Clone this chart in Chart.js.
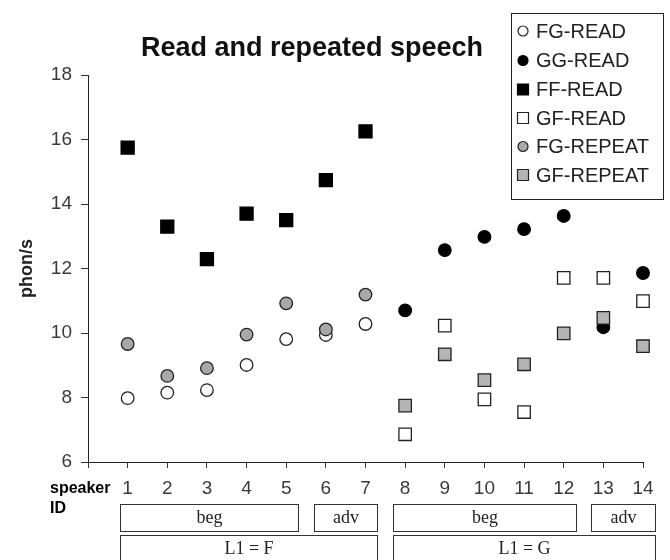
<!DOCTYPE html>
<html><head><meta charset="utf-8">
<script src="https://cdn.jsdelivr.net/npm/chart.js@4/dist/chart.umd.min.js"></script>
<style>html,body{margin:0;padding:0;background:#fff}#wrap{width:670px;height:560px;position:relative;background:#fff}</style>
</head><body><div id="wrap"><canvas id="c" width="670" height="560"></canvas></div>
<script>
// ---- data ----
const speakersF = [1, 2, 3, 4, 5, 6, 7];
const speakersG = [8, 9, 10, 11, 12, 13, 14];
const xTickLabels = ['', '1', '2', '3', '4', '5', '6', '7', '8', '9', '10', '11', '12', '13', '14'];
const yTicks = [6, 8, 10, 12, 14, 16, 18];

const fgRead   = [7.98, 8.15, 8.23, 9.01, 9.81, 9.94, 10.28];
const ggRead   = [10.70, 12.57, 12.98, 13.22, 13.63, 10.18, 11.86];
const ffRead   = [15.75, 13.30, 12.29, 13.70, 13.50, 14.74, 16.25];
const gfRead   = [6.86, 10.23, 7.94, 7.55, 11.71, 11.71, 10.99];
const fgRepeat = [9.66, 8.67, 8.91, 9.95, 10.92, 10.11, 11.19];
const gfRepeat = [7.75, 9.34, 8.54, 9.03, 9.99, 10.47, 9.59];

const levelLabels = ['beg', 'adv', 'beg', 'adv'];
const levelFrom   = [1, 6, 8, 13];
const levelTo     = [5, 7, 12, 14];
const l1Labels    = ['L1 = F', 'L1 = G'];
const l1From      = [1, 8];
const l1To        = [7, 14];

const titleText = 'Read and repeated speech';
const yTitle = 'phon/s';

// ---- build ----
const pts = (xs, ys) => xs.map((x, i) => ({x: x, y: ys[i]}));
const GREY_C = '#a8a8a8', GREY_S = '#b4b4b4', EDGE = '#222';

const datasets = [
  {label: 'FG-READ',   data: pts(speakersF, fgRead),   pointStyle: 'circle', pointRadius: 6.3, backgroundColor: '#fff', borderColor: EDGE, order: 1},
  {label: 'GG-READ',   data: pts(speakersG, ggRead),   pointStyle: 'circle', pointRadius: 6.3, backgroundColor: '#000', borderColor: '#000', order: 1},
  {label: 'FF-READ',   data: pts(speakersF, ffRead),   pointStyle: 'rect',   pointRadius: 9.2, backgroundColor: '#000', borderColor: '#000', order: 1},
  {label: 'GF-READ',   data: pts(speakersG, gfRead),   pointStyle: 'rect',   pointRadius: 8.8, backgroundColor: '#fff', borderColor: EDGE, order: 1},
  {label: 'FG-REPEAT', data: pts(speakersF, fgRepeat), pointStyle: 'circle', pointRadius: 6.3, backgroundColor: GREY_C, borderColor: EDGE, order: 0},
  {label: 'GF-REPEAT', data: pts(speakersG, gfRepeat), pointStyle: 'rect',   pointRadius: 8.8, backgroundColor: GREY_S, borderColor: EDGE, order: 0}
].map(d => Object.assign(d, {showLine: false, borderWidth: 1.3, pointHoverRadius: d.pointRadius, clip: false}));

const SANS = '"Liberation Sans", Arial, sans-serif';
const SERIF = '"Liberation Serif", "Times New Roman", serif';

const decor = {
  id: 'decor',
  afterDraw(chart) {
    const ctx = chart.ctx;
    const xs = chart.scales.x;
    ctx.save();
    // title
    ctx.fillStyle = '#111';
    ctx.font = 'bold 27px ' + SANS;
    ctx.textAlign = 'center';
    ctx.textBaseline = 'middle';
    ctx.fillText(titleText, 312, 49);

    // speaker ID
    ctx.fillStyle = '#000';
    ctx.font = 'bold 16px ' + SANS;
    ctx.textAlign = 'left';
    ctx.fillText('speaker', 50, 489);
    ctx.fillText('ID', 50, 509);

    // group boxes
    ctx.strokeStyle = '#333';
    ctx.lineWidth = 1;
    ctx.font = '18px ' + SERIF;
    ctx.textAlign = 'center';
    ctx.fillStyle = '#222';
    const box = (from, to, label, y0, y1, ty) => {
      const l = Math.round(xs.getPixelForValue(from - (from === 1 ? 0.2 : 0.31))) + 0.5;
      const r = Math.round(xs.getPixelForValue(to + 0.3)) + 0.5;
      ctx.strokeRect(l, y0 + 0.5, r - l, y1 - y0);
      ctx.fillText(label, (l + r) / 2, ty);
    };
    levelLabels.forEach((lab, i) => box(levelFrom[i], levelTo[i], lab, 504, 531, 518));
    l1Labels.forEach((lab, i) => box(l1From[i], l1To[i], lab, 535, 580, 549));

    // legend
    const lx = 511, ly = 13, lw = 152, lh = 186;
    ctx.strokeStyle = '#222';
    ctx.strokeRect(lx + 0.5, ly + 0.5, lw, lh);
    ctx.font = '20px ' + SANS;
    ctx.textAlign = 'left';
    ctx.textBaseline = 'middle';
    const rowY = [31, 60.5, 89.5, 118, 146.5, 175];
    chart.data.datasets.forEach((d, i) => {
      const cy = rowY[i], cx = 523;
      ctx.fillStyle = d.backgroundColor;
      ctx.strokeStyle = d.borderColor;
      ctx.lineWidth = 1.2;
      ctx.beginPath();
      if (d.pointStyle === 'circle') {
        ctx.arc(cx, cy, 5, 0, Math.PI * 2);
      } else {
        ctx.rect(cx - 5.5, cy - 5.5, 11, 11);
      }
      ctx.fill();
      ctx.stroke();
      ctx.fillStyle = '#222';
      ctx.fillText(d.label, 536, cy + 1);
    });
    ctx.restore();
  }
};

new Chart(document.getElementById('c'), {
  type: 'scatter',
  data: {datasets: datasets},
  plugins: [decor],
  options: {
    responsive: false,
    animation: false,
    devicePixelRatio: 1,
    layout: {padding: {top: 75, right: 27, left: 0, bottom: 0}},
    plugins: {legend: {display: false}, title: {display: false}, tooltip: {enabled: false}},
    scales: {
      x: {
        type: 'linear', min: 0, max: 14,
        afterBuildTicks(s) { s.ticks = xTickLabels.map((_, i) => ({value: i})); },
        ticks: {autoSkip: false, maxRotation: 0, callback: (v) => xTickLabels[v], font: {family: SANS, size: 19}, color: '#3a3a3a', padding: 9},
        grid: {drawOnChartArea: false, drawTicks: true, tickLength: 6, color: '#333'},
        border: {color: '#222', width: 1},
        afterFit(s) { s.height = 98; }
      },
      y: {
        min: 6, max: 18,
        afterBuildTicks(s) { s.ticks = yTicks.map(v => ({value: v})); },
        ticks: {font: {family: SANS, size: 19}, color: '#3a3a3a', padding: 9},
        grid: {drawOnChartArea: false, drawTicks: true, tickLength: 7, color: '#333'},
        border: {color: '#222', width: 1},
        title: {display: true, text: yTitle, font: {family: SANS, size: 18, weight: 'bold'}, color: '#222', padding: {top: 16, bottom: 0}},
        afterFit(s) { s.width = 88; }
      }
    }
  }
});
</script>
</body></html>
